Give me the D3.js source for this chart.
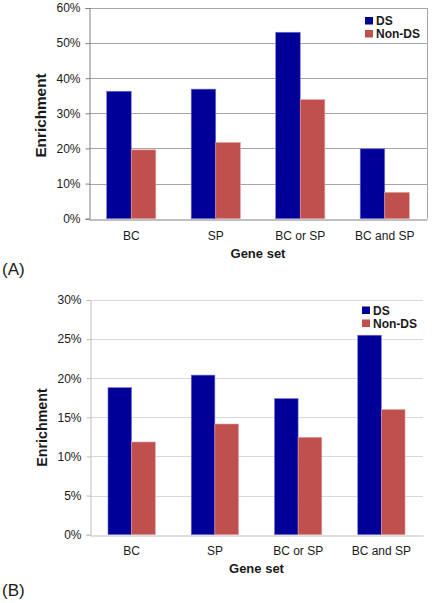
<!DOCTYPE html>
<html><head><meta charset="utf-8">
<script src="https://cdn.jsdelivr.net/npm/d3@7"></script>
<style>
body{margin:0;background:#fff;}
text{font-family:"Liberation Sans",Arial,sans-serif;fill:#1a1a1a;}
</style></head>
<body>
<svg id="chart" width="432" height="603"></svg>
<script>
const categories = ["BC", "SP", "BC or SP", "BC and SP"];
const seriesNames = ["DS", "Non-DS"];
const dsA = [36.3, 36.9, 53.1, 19.9];
const nonDsA = [19.6, 21.7, 33.9, 7.5];
const dsB = [18.8, 20.4, 17.4, 25.5];
const nonDsB = [11.85, 14.15, 12.45, 16.0];
const ticksA = [0, 10, 20, 30, 40, 50, 60];
const ticksB = [0, 5, 10, 15, 20, 25, 30];
const colors = ["#000099", "#C0504D"];

const svg = d3.select("#chart");

function panel(cfg) {
  const g = svg.append("g");
  const x = d3.scaleBand().domain(categories).range([cfg.left, cfg.right]);
  const y = d3.scaleLinear().domain([0, d3.max(cfg.ticks)]).range([cfg.bottom, cfg.top]);
  const inner = d3.scaleBand().domain(seriesNames).range([0, x.bandwidth()]).paddingInner(0).paddingOuter(cfg.outerPad);

  // gridlines
  g.append("g").selectAll("line").data(cfg.ticks.slice(1)).join("line")
    .attr("x1", cfg.left).attr("x2", cfg.right)
    .attr("y1", d => Math.round(y(d)) + 0.5).attr("y2", d => Math.round(y(d)) + 0.5)
    .attr("stroke", cfg.gridColor).attr("stroke-width", 1);
  if (cfg.frame) {
    g.append("line").attr("x1", cfg.right + 0.5).attr("x2", cfg.right + 0.5)
      .attr("y1", cfg.top).attr("y2", cfg.bottom).attr("stroke", cfg.gridColor);
  }

  // y axis
  const yAxis = d3.axisLeft(y).tickValues(cfg.ticks).tickFormat(d => d + "%").tickSize(4).tickPadding(5);
  const ya = g.append("g").attr("transform", `translate(${cfg.left + 0.5},0)`).call(yAxis);
  ya.select(".domain").attr("stroke", cfg.axisColor);
  ya.selectAll(".tick line").attr("stroke", cfg.axisColor);
  ya.selectAll(".tick text").attr("font-size", 12).attr("fill", "#1a1a1a")
    .attr("font-family", "'Liberation Sans',Arial,sans-serif");

  // x axis
  const xAxis = d3.axisBottom(x).tickSize(0).tickPadding(cfg.xPad);
  const xa = g.append("g").attr("transform", `translate(0,${Math.round(cfg.bottom) + 0.5})`).call(xAxis);
  xa.select(".domain").attr("stroke", cfg.axisColor);
  xa.selectAll(".tick text").attr("font-size", 12).attr("fill", "#1a1a1a")
    .attr("font-family", "'Liberation Sans',Arial,sans-serif");

  // bars
  const data = categories.map((c, i) => ({c, vals: [cfg.ds[i], cfg.non[i]]}));
  const grp = g.append("g").selectAll("g").data(data).join("g")
    .attr("transform", d => `translate(${x(d.c)},0)`);
  grp.selectAll("rect").data(d => d.vals.map((v, j) => ({v, s: seriesNames[j], j}))).join("rect")
    .attr("x", d => inner(d.s)).attr("width", inner.bandwidth())
    .attr("y", d => y(d.v)).attr("height", d => y(0) - y(d.v))
    .attr("fill", d => colors[d.j])
    .attr("stroke", d => d.j === 0 ? "#7a7ad6" : "#e3a09e").attr("stroke-width", 0.6);

  // y title
  g.append("text").attr("transform", `translate(${cfg.ytitleX},${cfg.ytitleY}) rotate(-90)`)
    .attr("text-anchor", "middle").attr("font-weight", "bold").attr("font-size", cfg.ytitleSize).text("Enrichment");
  // x title
  g.append("text").attr("x", (cfg.left + cfg.right) / 2).attr("y", cfg.xtitleY)
    .attr("text-anchor", "middle").attr("font-weight", "bold").attr("font-size", 13).text("Gene set");
  // panel label
  g.append("text").attr("x", 2).attr("y", cfg.labelY).attr("font-size", 17).text(cfg.label);

  // legend
  const lg = g.append("g").attr("transform", `translate(${cfg.legX},${cfg.legY})`);
  seriesNames.forEach((s, j) => {
    lg.append("rect").attr("x", 0).attr("y", j * 13).attr("width", 8).attr("height", 7.5).attr("fill", colors[j]);
    lg.append("text").attr("x", 11).attr("y", j * 13 + 8).attr("font-size", 12).attr("font-weight", "bold").text(s);
  });
}

panel({left: 89, right: 427, top: 8, bottom: 218.7, ticks: ticksA, ds: dsA, non: nonDsA,
  gridColor: "#a6a6a6", axisColor: "#808080", frame: true, ytitleX: 46, ytitleY: 115.5, ytitleSize: 15.3, xtitleY: 257.5,
  label: "(A)", labelY: 275, legX: 365, legY: 17, outerPad: 0.72, xPad: 12});
panel({left: 90, right: 423, top: 300, bottom: 534.7, ticks: ticksB, ds: dsB, non: nonDsB,
  gridColor: "#d9d9d9", axisColor: "#bfbfbf", frame: false, ytitleX: 46.5, ytitleY: 427.5, ytitleSize: 14.3, xtitleY: 573,
  label: "(B)", labelY: 596, legX: 362, legY: 306.5, outerPad: 0.76, xPad: 11});
</script>
</body></html>
